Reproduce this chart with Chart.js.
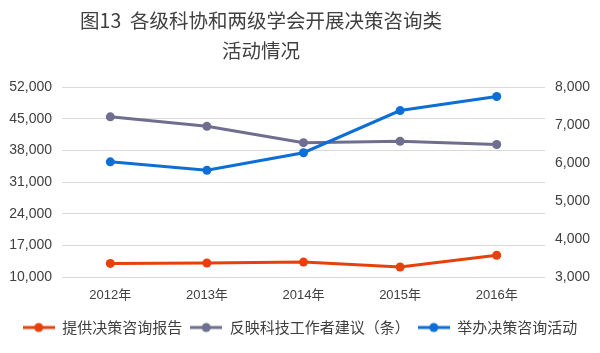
<!DOCTYPE html>
<html><head><meta charset="utf-8">
<script src="https://cdn.jsdelivr.net/npm/chart.js@4"></script>
<style>html,body{margin:0;padding:0;background:#fff}#wrap{width:600px;height:353px}</style>
</head><body><div id="wrap"><canvas id="c"></canvas></div>
<script>
const titleLines = ['图13  各级科协和两级学会开展决策咨询类', '活动情况'];
const categories = ['2012年', '2013年', '2014年', '2015年', '2016年'];
const seriesNames = ['提供决策咨询报告', '反映科技工作者建议（条）', '举办决策咨询活动'];
const reports = [13000, 13100, 13300, 12200, 14800];
const suggestions = [45400, 43300, 39700, 40000, 39300];
const activities = [6030, 5810, 6270, 7380, 7750];
const leftTicks = [10000, 17000, 24000, 31000, 38000, 45000, 52000];
const rightTicks = [3000, 4000, 5000, 6000, 7000, 8000];

const colors = ['#E8400C', '#6E6E8E', '#0D6ED6'];
const FONT = '"Liberation Sans", "Noto Sans CJK SC", sans-serif';
const CJK = '"Noto Sans CJK SC", sans-serif';

function marker(color) {
  const cv = document.createElement('canvas');
  cv.width = 32; cv.height = 12;
  const g = cv.getContext('2d');
  g.strokeStyle = color; g.lineWidth = 3;
  g.beginPath(); g.moveTo(0, 6); g.lineTo(32, 6); g.stroke();
  g.fillStyle = color; g.beginPath(); g.arc(16, 6, 4.5, 0, Math.PI * 2); g.fill();
  return cv;
}
const markers = colors.map(marker);

const titlePlugin = {
  id: 'customTitle',
  afterDraw(chart) {
    const ctx = chart.ctx;
    ctx.save();
    ctx.fillStyle = '#404040';
    ctx.font = '19.5px ' + CJK;
    ctx.textAlign = 'center';
    ctx.textBaseline = 'middle';
    ctx.fillText(titleLines[0], 261, 21);
    ctx.fillText(titleLines[1], 261, 51);
    ctx.restore();
  }
};

function ds(label, data, color, axis, order) {
  return {
    label, data, yAxisID: axis, order,
    borderColor: color, backgroundColor: color,
    pointBackgroundColor: color, pointBorderColor: color,
    borderWidth: 3, pointRadius: 4.5, pointHoverRadius: 4.5, pointBorderWidth: 0,
    tension: 0, fill: false
  };
}

new Chart(document.getElementById('c'), {
  type: 'line',
  data: {
    labels: categories,
    datasets: [
      ds(seriesNames[0], reports, colors[0], 'yL', 2),
      ds(seriesNames[1], suggestions, colors[1], 'yL', 1),
      ds(seriesNames[2], activities, colors[2], 'yR', 0)
    ]
  },
  options: {
    responsive: true, maintainAspectRatio: false, animation: false,
    layout: { padding: { top: 87, bottom: 8, left: 0, right: 0 } },
    plugins: {
      title: { display: false },
      tooltip: { enabled: false },
      legend: {
        display: true, position: 'bottom',
        labels: {
          usePointStyle: true, pointStyleWidth: 32, padding: 8,
          color: '#404040',
          font: { family: CJK, size: 15 },
          generateLabels(chart) {
            return chart.data.datasets.map((d, i) => ({
              text: d.label, pointStyle: markers[i], fillStyle: d.borderColor,
              strokeStyle: d.borderColor, lineWidth: 0, hidden: false,
              datasetIndex: i, fontColor: '#404040'
            }));
          }
        }
      }
    },
    scales: {
      x: {
        offset: true,
        grid: { display: false, drawTicks: false },
        border: { display: false },
        ticks: { color: '#404040', font: { family: FONT, size: 13 }, padding: 11 },
        afterFit(s) { s.height = 35; }
      },
      yL: {
        position: 'left', min: 10000, max: 52000,
        afterBuildTicks(s) { s.ticks = leftTicks.map(v => ({ value: v })); },
        grid: { color: '#D9D9D9', lineWidth: 1, drawTicks: false },
        border: { display: false },
        ticks: {
          color: '#404040', font: { family: FONT, size: 14 }, padding: 10,
          callback: v => v.toLocaleString('en-US')
        },
        afterFit(s) { s.width = 62; }
      },
      yR: {
        position: 'right', min: 3000, max: 8000,
        afterBuildTicks(s) { s.ticks = rightTicks.map(v => ({ value: v })); },
        grid: { display: false, drawTicks: false },
        border: { display: false },
        ticks: {
          color: '#404040', font: { family: FONT, size: 14 }, padding: 10,
          callback: v => v.toLocaleString('en-US')
        },
        afterFit(s) { s.width = 55; }
      }
    }
  },
  plugins: [titlePlugin]
});
</script>
</body></html>
